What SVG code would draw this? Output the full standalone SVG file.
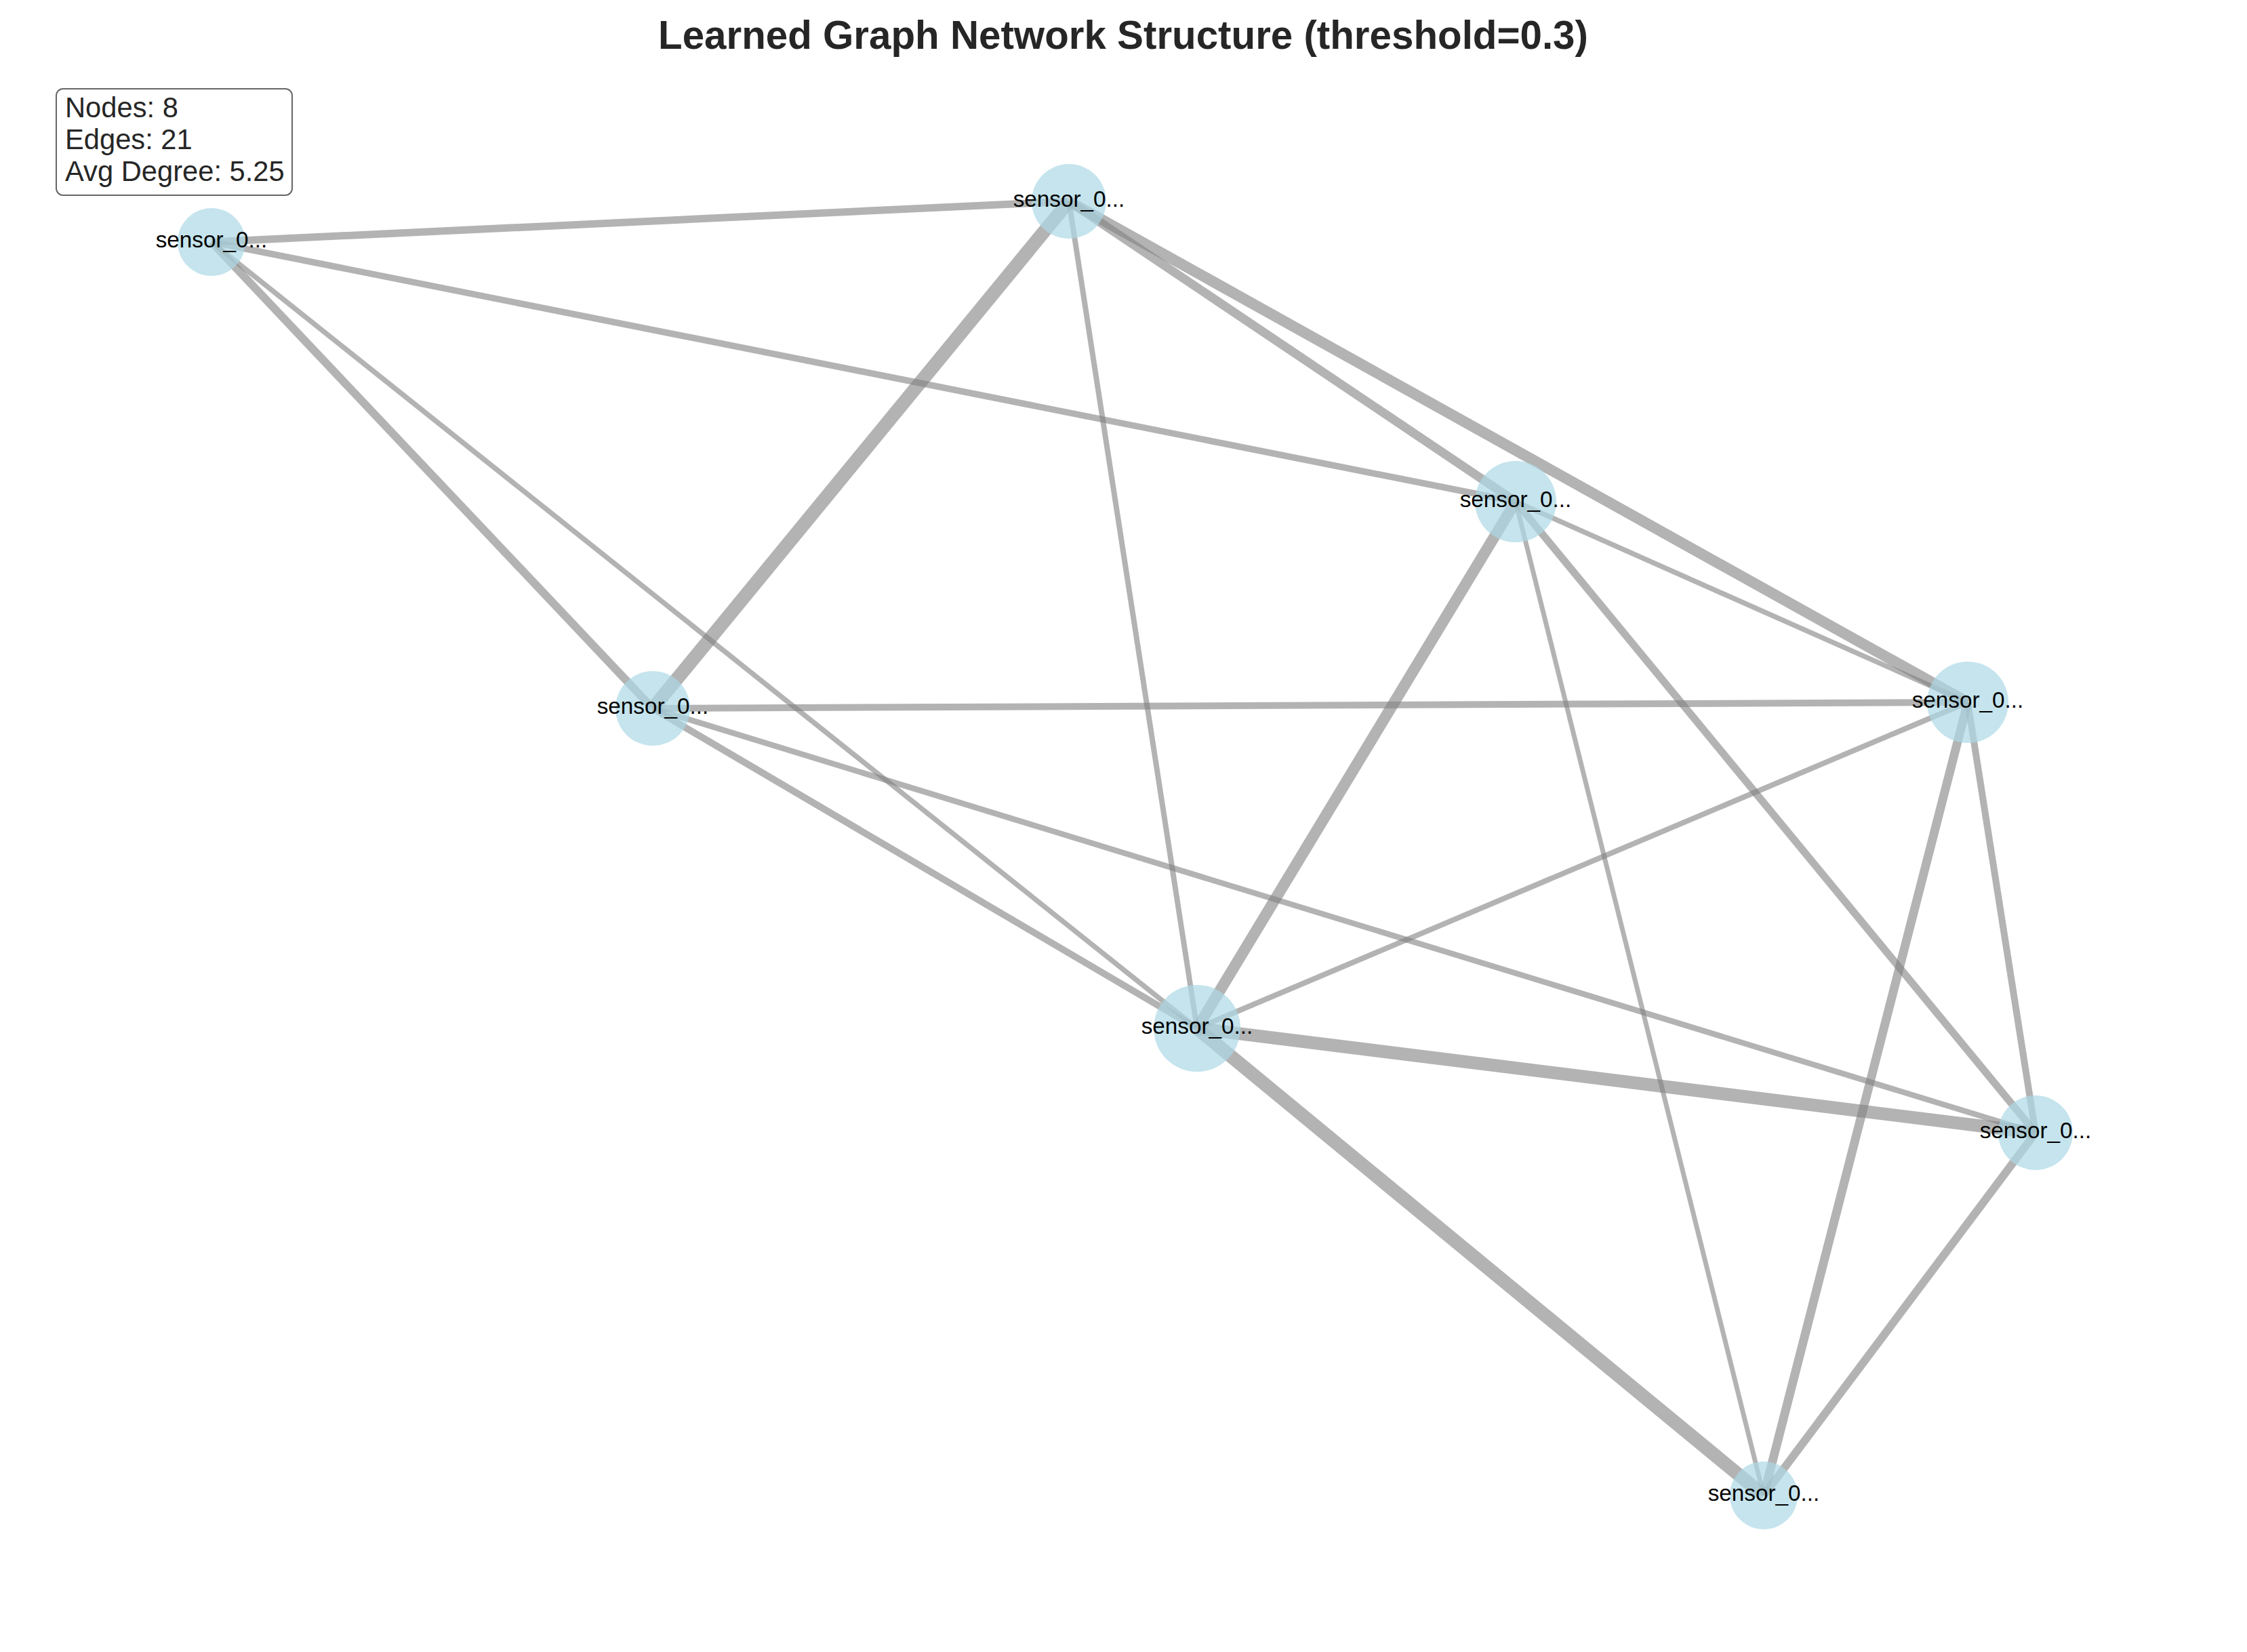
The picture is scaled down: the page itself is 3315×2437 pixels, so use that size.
<svg xmlns="http://www.w3.org/2000/svg" width="3315" height="2437" viewBox="0 0 3315 2437">
<style>
.bg{fill:#ffffff}
.edge{stroke:#808080;stroke-opacity:0.6;stroke-linecap:butt;fill:none}
.node circle{fill:#ADD8E6;fill-opacity:0.7;stroke:none}
.node text{font-family:"Liberation Sans",Arial,sans-serif;font-size:33.3px;fill:#000000;text-anchor:middle}
.title{font-family:"Liberation Sans",Arial,sans-serif;font-size:58.3px;font-weight:bold;fill:#262626;text-anchor:middle}
.info rect{fill:#ffffff;fill-opacity:0.8;stroke:#000000;stroke-opacity:0.6;stroke-width:2}
.info text{font-family:"Liberation Sans",Arial,sans-serif;font-size:41.7px;fill:#262626}
</style>
<rect class="bg" x="0" y="0" width="3315" height="2437"/>
<text class="title" x="1657" y="72">Learned Graph Network Structure (threshold=0.3)</text>
<g id="connectors">
<line class="edge" x1="312" y1="357" x2="1577" y2="297" stroke-width="11"/>
<line class="edge" x1="312" y1="357" x2="2236" y2="740" stroke-width="9.5"/>
<line class="edge" x1="312" y1="357" x2="963" y2="1045" stroke-width="12"/>
<line class="edge" x1="312" y1="357" x2="1766" y2="1517" stroke-width="7.5"/>
<line class="edge" x1="1577" y1="297" x2="2236" y2="740" stroke-width="13"/>
<line class="edge" x1="1577" y1="297" x2="963" y2="1045" stroke-width="20"/>
<line class="edge" x1="1577" y1="297" x2="2903" y2="1036" stroke-width="16"/>
<line class="edge" x1="1577" y1="297" x2="1766" y2="1517" stroke-width="8"/>
<line class="edge" x1="2236" y1="740" x2="2903" y2="1036" stroke-width="7.5"/>
<line class="edge" x1="2236" y1="740" x2="1766" y2="1517" stroke-width="16.5"/>
<line class="edge" x1="2236" y1="740" x2="3003" y2="1671" stroke-width="11"/>
<line class="edge" x1="2236" y1="740" x2="2602" y2="2206" stroke-width="7"/>
<line class="edge" x1="963" y1="1045" x2="2903" y2="1036" stroke-width="10"/>
<line class="edge" x1="963" y1="1045" x2="1766" y2="1517" stroke-width="10"/>
<line class="edge" x1="963" y1="1045" x2="3003" y2="1671" stroke-width="8.5"/>
<line class="edge" x1="2903" y1="1036" x2="1766" y2="1517" stroke-width="8"/>
<line class="edge" x1="2903" y1="1036" x2="3003" y2="1671" stroke-width="10"/>
<line class="edge" x1="2903" y1="1036" x2="2602" y2="2206" stroke-width="13"/>
<line class="edge" x1="1766" y1="1517" x2="3003" y2="1671" stroke-width="19"/>
<line class="edge" x1="1766" y1="1517" x2="2602" y2="2206" stroke-width="20"/>
<line class="edge" x1="3003" y1="1671" x2="2602" y2="2206" stroke-width="12"/>
</g>
<g id="node1" class="node"><circle cx="312" cy="357" r="50"/><text x="312" y="365">sensor_0...</text></g>
<g id="node2" class="node"><circle cx="1577" cy="297" r="55"/><text x="1577" y="305">sensor_0...</text></g>
<g id="node3" class="node"><circle cx="2236" cy="740" r="60"/><text x="2236" y="748">sensor_0...</text></g>
<g id="node4" class="node"><circle cx="963" cy="1045" r="55"/><text x="963" y="1053">sensor_0...</text></g>
<g id="node5" class="node"><circle cx="2903" cy="1036" r="60"/><text x="2903" y="1044">sensor_0...</text></g>
<g id="node6" class="node"><circle cx="1766" cy="1517" r="64"/><text x="1766" y="1525">sensor_0...</text></g>
<g id="node7" class="node"><circle cx="3003" cy="1671" r="55"/><text x="3003" y="1679">sensor_0...</text></g>
<g id="node8" class="node"><circle cx="2602" cy="2206" r="50"/><text x="2602" y="2214">sensor_0...</text></g>
<g id="info" class="info">
<rect x="83" y="131" width="348" height="157" rx="10" ry="10"/>
<text x="96" y="173">Nodes: 8</text>
<text x="96" y="220">Edges: 21</text>
<text x="96" y="267">Avg Degree: 5.25</text>
</g>
</svg>
